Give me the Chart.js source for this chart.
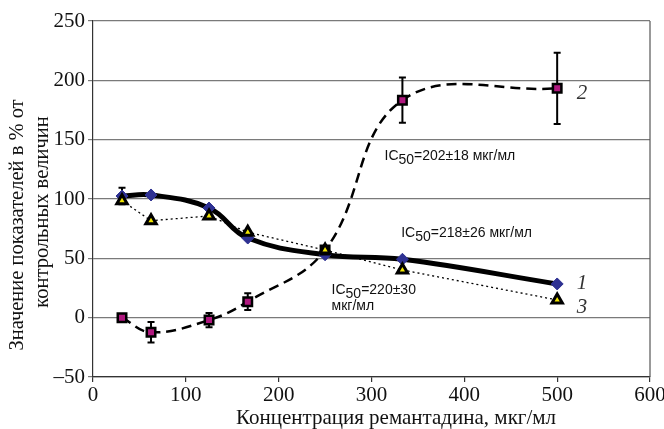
<!DOCTYPE html>
<html>
<head>
<meta charset="utf-8">
<script src="https://cdn.jsdelivr.net/npm/chart.js@4.4.1/dist/chart.umd.min.js"></script>
<style>
  html, body { margin: 0; padding: 0; background: #fff; }
  #wrap { width: 664px; height: 429px; }
</style>
</head>
<body>
<div id="wrap"><canvas id="remChart"></canvas></div>
<script>
// concentrations, mkg/ml
const concentrations = [31.25, 62.5, 125, 166.7, 250, 333.3, 500];
// curve 1 (diamonds)
const series1 = [102.5, 103.4, 92.4, 67.1, 53, 49.2, 28.4];
const series1Err = [7, 0, 0, 0, 0, 0, 0];
// curve 2 (squares)
const series2 = [0, -12.3, -2, 13.5, 57, 183.3, 193.3];
const series2Err = [0, 8.6, 6, 7, 0, 19, 30];
// curve 3 (triangles)
const series3 = [98.6, 81.7, 85.7, 72, 57, 40.2, 14.9];

const xTicks = [0, 100, 200, 300, 400, 500, 600];
const yTicks = [-50, 0, 50, 100, 150, 200, 250];

const xTitle = 'Концентрация ремантадина, мкг/мл';
const yTitle = ['Значение показателей в % от', 'контрольных величин'];

// IC50 notes and curve numbers, placed in data units
const notes = [
    { x: 314, y: 136.5, main: '202±18 мкг/мл' },
    { x: 332, y: 71, main: '218±26 мкг/мл' },
    { x: 257, y: 23.3, main: '220±30' }
];
const noteExtra = { x: 257, y: 9.3, text: 'мкг/мл' };
const curveLabels = [
    { x: 521, y: 28.4, text: '1' },
    { x: 521, y: 189, text: '2' },
    { x: 521, y: 8.2, text: '3' }
];

const serif = "'Liberation Serif', 'Times New Roman', serif";
const sans = "'Liberation Sans', Arial, sans-serif";

function pts(vals) {
    return concentrations.map((c, i) => ({ x: c, y: vals[i] }));
}

const errorBars = {
    id: 'errorBars',
    beforeDatasetsDraw(chart) {
        const { ctx, scales: { x, y } } = chart;
        const sets = [[series1, series1Err], [series2, series2Err]];
        ctx.save();
        ctx.strokeStyle = '#000';
        ctx.lineWidth = 2;
        sets.forEach(([vals, errs]) => {
            vals.forEach((v, i) => {
                if (!errs[i]) return;
                const px = x.getPixelForValue(concentrations[i]);
                const top = y.getPixelForValue(v + errs[i]);
                const bot = y.getPixelForValue(v - errs[i]);
                ctx.beginPath();
                ctx.moveTo(px, top); ctx.lineTo(px, bot);
                ctx.moveTo(px - 3.5, top); ctx.lineTo(px + 3.5, top);
                ctx.moveTo(px - 3.5, bot); ctx.lineTo(px + 3.5, bot);
                ctx.stroke();
            });
        });
        // right frame line
        const a = chart.chartArea;
        ctx.strokeStyle = '#555';
        ctx.lineWidth = 1.2;
        ctx.beginPath();
        ctx.moveTo(a.right, a.top);
        ctx.lineTo(a.right, a.bottom);
        ctx.stroke();
        ctx.restore();
    }
};

const textLayer = {
    id: 'textLayer',
    afterDraw(chart) {
        const { ctx, scales: { x, y }, chartArea: a } = chart;
        ctx.save();
        ctx.fillStyle = '#111';
        ctx.textBaseline = 'middle';
        ctx.textAlign = 'left';
        ctx.font = '14px ' + sans;
        notes.forEach(n => {
            let px = x.getPixelForValue(n.x);
            const py = y.getPixelForValue(n.y);
            ctx.fillText('IC', px, py);
            px += ctx.measureText('IC').width;
            ctx.fillText('50', px, py + 4);
            px += ctx.measureText('50').width;
            ctx.fillText('=' + n.main, px, py);
        });
        ctx.fillText(noteExtra.text, x.getPixelForValue(noteExtra.x), y.getPixelForValue(noteExtra.y));

        ctx.font = 'italic 21px ' + serif;
        ctx.fillStyle = '#333';
        curveLabels.forEach(l => {
            ctx.fillText(l.text, x.getPixelForValue(l.x), y.getPixelForValue(l.y));
        });

        // axis titles
        ctx.fillStyle = '#111';
        ctx.textAlign = 'center';
        ctx.font = '21px ' + serif;
        ctx.fillText(xTitle, 396, 418);
        ctx.font = '20.5px ' + serif;
        ctx.translate(18, 225);
        ctx.rotate(-Math.PI / 2);
        ctx.fillText(yTitle[0], 0, 0);
        ctx.fillText(yTitle[1], 13, 25);
        ctx.restore();
    }
};

new Chart(document.getElementById('remChart'), {
    type: 'scatter',
    data: {
        datasets: [{
            label: '1',
            data: pts(series1),
            showLine: true,
            borderColor: '#000',
            borderWidth: 5,
            tension: 0.4,
            pointStyle: 'rectRot',
            pointRadius: 6,
            pointBackgroundColor: '#2e3192',
            pointBorderColor: '#2e3192',
            pointBorderWidth: 1,
            order: 3
        }, {
            label: '2',
            data: pts(series2),
            showLine: true,
            borderColor: '#000',
            borderWidth: 2.5,
            borderDash: [10, 6],
            tension: 0.4,
            pointStyle: 'rect',
            pointRadius: 6,
            pointBackgroundColor: '#b0187f',
            pointBorderColor: '#000',
            pointBorderWidth: 2.5,
            order: 2
        }, {
            label: '3',
            data: pts(series3),
            showLine: true,
            borderColor: '#000',
            borderWidth: 1.3,
            borderDash: [2, 3],
            tension: 0,
            pointStyle: 'triangle',
            pointRadius: 6,
            pointBackgroundColor: '#f2e600',
            pointBorderColor: '#000',
            pointBorderWidth: 3,
            order: 1
        }]
    },
    options: {
        responsive: true,
        maintainAspectRatio: false,
        animation: false,
        layout: { padding: { left: 0, top: 21, right: 14, bottom: 0 } },
        plugins: {
            legend: { display: false },
            tooltip: { enabled: false }
        },
        scales: {
            x: {
                type: 'linear',
                min: 0, max: 600,
                afterFit: s => { s.height = 52; s.paddingRight = 0; s.paddingLeft = 0; },
                afterBuildTicks: s => { s.ticks = xTicks.map(v => ({ value: v })); },
                ticks: { font: { family: serif, size: 21 }, color: '#111', padding: 1, maxRotation: 0 },
                grid: { drawOnChartArea: false, tickLength: 5, color: '#333', lineWidth: 1.2 },
                border: { color: '#333', width: 1.2 }
            },
            y: {
                min: -50, max: 250,
                afterFit: s => { s.width = 93; s.paddingTop = 0; s.paddingBottom = 0; },
                afterBuildTicks: s => { s.ticks = yTicks.map(v => ({ value: v })); },
                ticks: {
                    font: { family: serif, size: 21 }, color: '#111', padding: 3,
                    callback: v => String(v).replace('-', '–')
                },
                grid: { color: '#7a7a7a', lineWidth: 1.2, tickLength: 5 },
                border: { color: '#333', width: 1.2 }
            }
        }
    },
    plugins: [errorBars, textLayer]
});
</script>
</body>
</html>
